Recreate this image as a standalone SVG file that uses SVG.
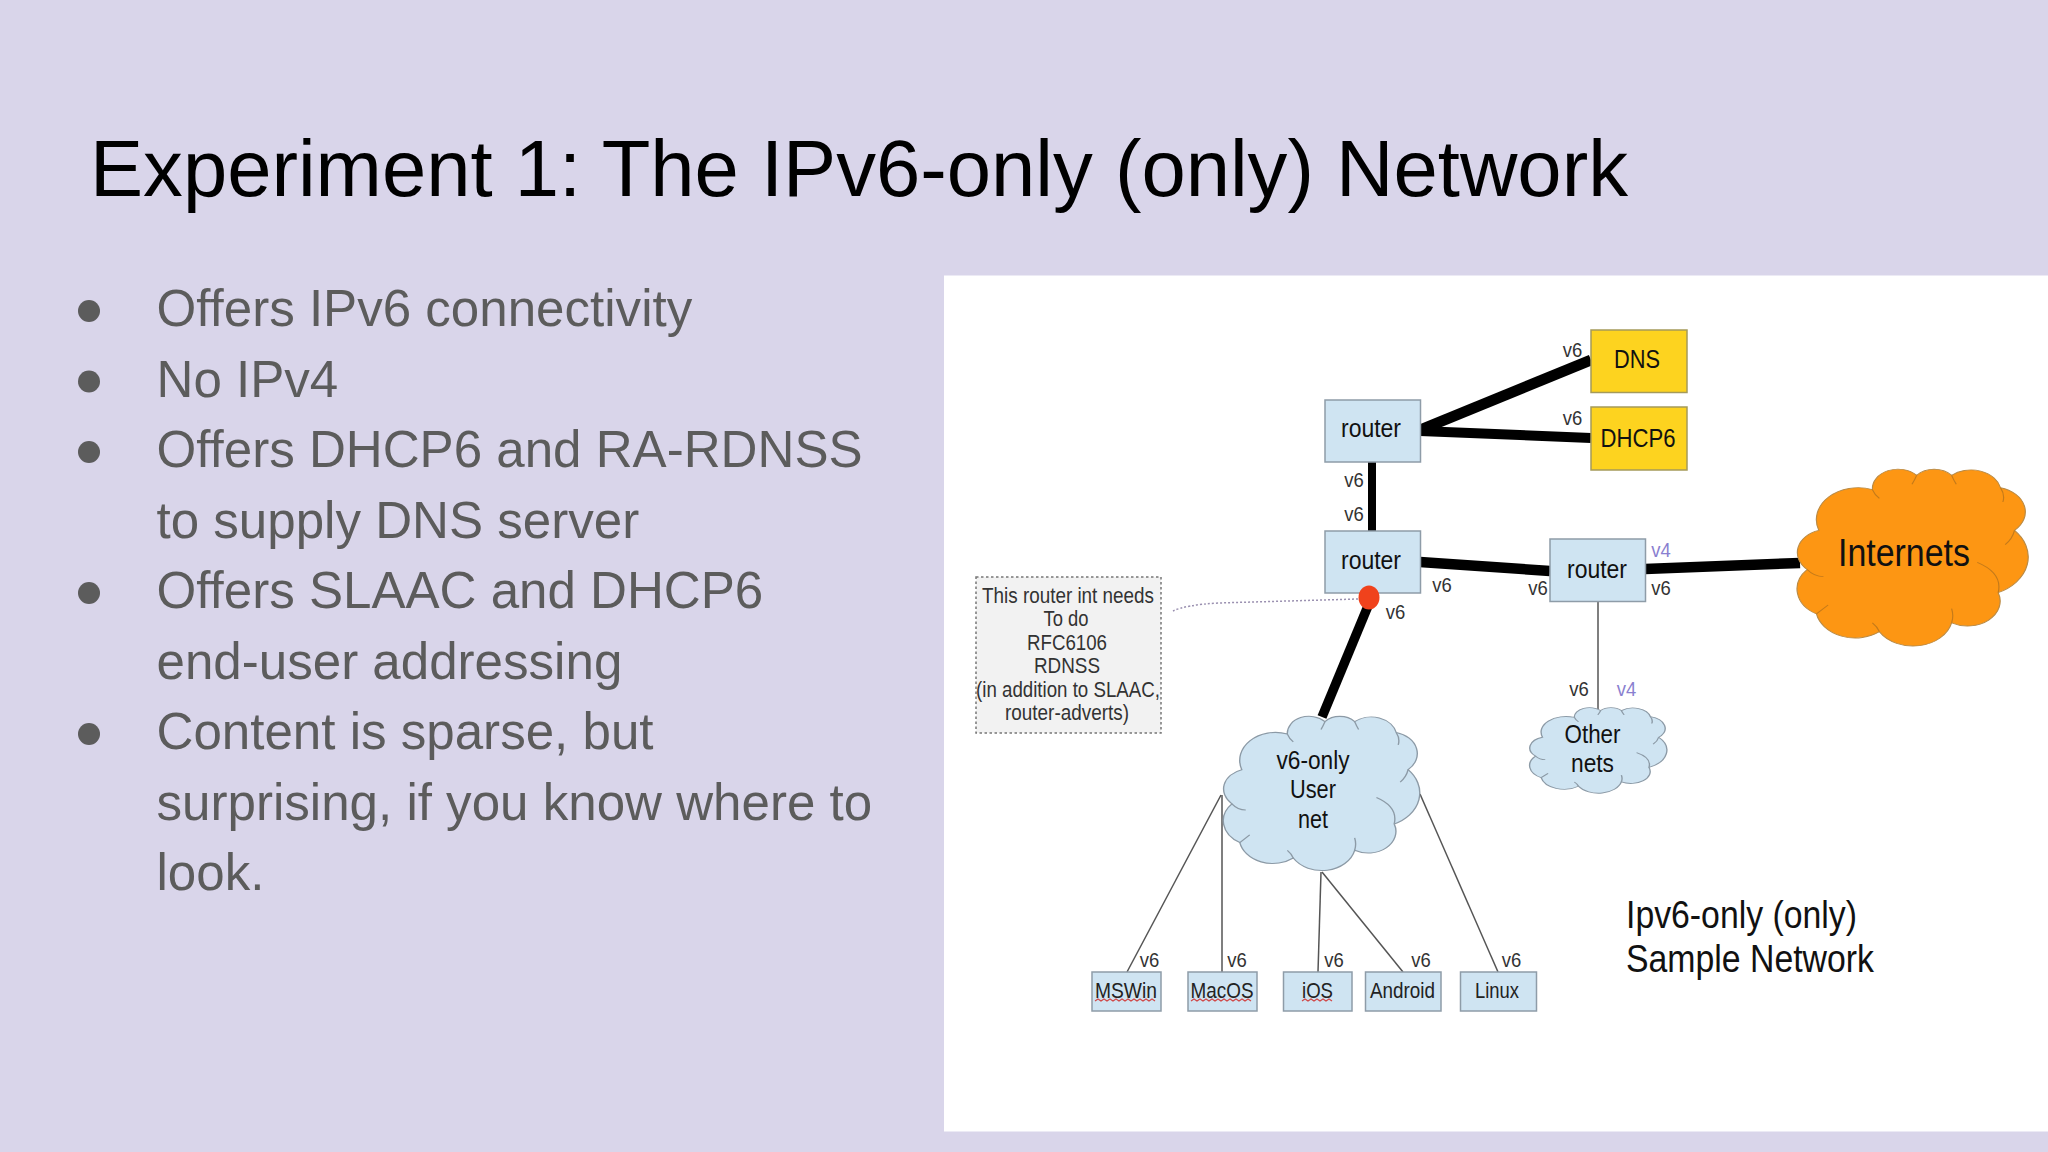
<svg xmlns="http://www.w3.org/2000/svg" width="2048" height="1152" viewBox="0 0 2048 1152">
<style>
text{font-family:"Liberation Sans",Arial,sans-serif}
.t{font-size:79.6px;fill:#000}
.b{font-size:51.1px;fill:#5c5c5c}
.box{stroke:#8e9ca8;stroke-width:1.5;fill:#cfe4f2}
.y{stroke:#a59a5a;stroke-width:1.5;fill:#fdd31f}
.l{font-size:25px;fill:#111;text-anchor:middle}
.s{font-size:22px;fill:#222;text-anchor:middle}
.v{font-size:20px;fill:#333;text-anchor:middle}
.p{fill:#8a7fd0}
.n{font-size:22px;fill:#333;text-anchor:middle}
.thick{stroke:#000;fill:none}
.thin{stroke:#555;stroke-width:1.5;fill:none}
.sq{stroke:#d04848;stroke-width:1.2;fill:none}
</style>
<defs>
<path id="cloud" d="M10,34A18,18 0 0 1 33,11A11,11 0 0 1 52,3A10,10 0 0 1 67,3A13,13 0 0 1 88,10A14,14 0 0 1 94,34A22,22 0 0 1 87,69A14,14 0 0 1 67,86A17,17 0 0 1 36,91A17,17 0 0 1 9,81A16,16 0 0 1 5,56A13,13 0 0 1 10,34Z"/>
<path id="crease" d="M5,56Q8,60 12,60M33,11Q34,14 36,16M52,3Q51,6 50,8M67,3Q68,6 69,8M88,10Q90,14 89,18M94,34Q93,39 90,42M87,69Q89,58 78,52M67,86Q68,82 67,78M36,91Q35,88 33,86M9,81Q11,79 14,76"/>
</defs>
<rect width="2048" height="1152" fill="#d9d5ea"/>
<rect x="944" y="275.500" width="1104" height="856" fill="#fff"/>
<text class="t" x="90" y="195.500">Experiment 1: The IPv6-only (only) Network</text>
<g id="bullets">
<circle cx="89" cy="311" r="11" fill="#5c5c5c"/>
<circle cx="89" cy="381.500" r="11" fill="#5c5c5c"/>
<circle cx="89" cy="452" r="11" fill="#5c5c5c"/>
<circle cx="89" cy="593" r="11" fill="#5c5c5c"/>
<circle cx="89" cy="734" r="11" fill="#5c5c5c"/>
<text class="b" x="156.500" y="326">Offers IPv6 connectivity</text>
<text class="b" x="156.500" y="396.500">No IPv4</text>
<text class="b" x="156.500" y="467">Offers DHCP6 and RA-RDNSS</text>
<text class="b" x="156.500" y="537.500">to supply DNS server</text>
<text class="b" x="156.500" y="608">Offers SLAAC and DHCP6</text>
<text class="b" x="156.500" y="678.500">end-user addressing</text>
<text class="b" x="156.500" y="749">Content is sparse, but</text>
<text class="b" x="156.500" y="819.500">surprising, if you know where to</text>
<text class="b" x="156.500" y="890">look.</text>
</g>
<g id="connectors">
<line class="thick" stroke-width="11" x1="1420" y1="430" x2="1591" y2="360"/>
<line class="thick" stroke-width="10" x1="1420" y1="431" x2="1591" y2="438"/>
<line class="thick" stroke-width="8" x1="1372" y1="462" x2="1372" y2="531"/>
<line class="thick" stroke-width="10.500" x1="1420" y1="562" x2="1550" y2="571"/>
<line class="thick" stroke-width="10.500" x1="1645" y1="569" x2="1800" y2="563"/>
<line class="thick" stroke-width="9.500" x1="1368" y1="606" x2="1322" y2="717"/>
<path d="M1173,611Q1185,605 1218,603L1358,599" fill="none" stroke="#9a90b0" stroke-width="1.500" stroke-dasharray="2 2"/>
<line class="thin" x1="1598" y1="602" x2="1598" y2="709"/>
<line class="thin" x1="1221" y1="795" x2="1127" y2="972"/>
<line class="thin" x1="1222" y1="795" x2="1222" y2="972"/>
<line class="thin" x1="1321" y1="872" x2="1318" y2="972"/>
<line class="thin" x1="1322" y1="872" x2="1403" y2="972"/>
<line class="thin" x1="1420" y1="794" x2="1498" y2="972"/>
</g>
<g id="router-top"><rect class="box" x="1325" y="400" width="95.500" height="62"/><text class="l" x="1371" y="437" textLength="60" lengthAdjust="spacingAndGlyphs">router</text></g>
<g id="router-mid"><rect class="box" x="1325" y="531" width="95.500" height="62"/><text class="l" x="1371" y="569" textLength="60" lengthAdjust="spacingAndGlyphs">router</text></g>
<g id="router-right"><rect class="box" x="1550" y="539" width="95.500" height="62.500"/><text class="l" x="1597" y="577.500" textLength="60" lengthAdjust="spacingAndGlyphs">router</text></g>
<g id="dns"><rect class="y" x="1591" y="330" width="96" height="62.500"/><text class="l" x="1637" y="368" textLength="46" lengthAdjust="spacingAndGlyphs">DNS</text></g>
<g id="dhcp6"><rect class="y" x="1591" y="407" width="96" height="63"/><text class="l" x="1638" y="446.500" textLength="75" lengthAdjust="spacingAndGlyphs">DHCP6</text></g>
<g id="internets">
<g transform="translate(1795.500,470) scale(2.33,1.777)"><use href="#cloud" fill="#fd9613" stroke="#b98a45" stroke-width="0.5"/><use href="#crease" fill="none" stroke="#c47a1a" stroke-width="0.5"/></g>
<text x="1904" y="566" font-size="39" fill="#111" text-anchor="middle" textLength="132" lengthAdjust="spacingAndGlyphs">Internets</text>
</g>
<g id="user-net">
<g transform="translate(1222,717) scale(1.98,1.55)"><use href="#cloud" fill="#cfe4f2" stroke="#8c9aa6" stroke-width="0.7"/><use href="#crease" fill="none" stroke="#8c9aa6" stroke-width="0.7"/></g>
<text class="l" x="1313" y="769" textLength="73" lengthAdjust="spacingAndGlyphs">v6-only</text>
<text class="l" x="1313" y="798" textLength="46" lengthAdjust="spacingAndGlyphs">User</text>
<text class="l" x="1313" y="827.500" textLength="30" lengthAdjust="spacingAndGlyphs">net</text>
</g>
<g id="other-nets">
<g transform="translate(1528.700,708) scale(1.383,0.86)"><use href="#cloud" fill="#cfe4f2" stroke="#8c9aa6" stroke-width="1"/><use href="#crease" fill="none" stroke="#8c9aa6" stroke-width="1"/></g>
<text class="l" x="1592.500" y="743" textLength="56" lengthAdjust="spacingAndGlyphs">Other</text>
<text class="l" x="1592.500" y="771.500" textLength="43" lengthAdjust="spacingAndGlyphs">nets</text>
</g>
<g id="red-dot"><ellipse cx="1369" cy="597.500" rx="10.500" ry="12" fill="#f0421c"/></g>
<g id="note">
<rect x="976" y="577" width="185" height="156" fill="#f2f2f2" stroke="#777" stroke-width="1.500" stroke-dasharray="2.500 2.500"/>
<text class="n" x="1068" y="602.500" textLength="172" lengthAdjust="spacingAndGlyphs">This router int needs</text>
<text class="n" x="1066" y="626" textLength="45" lengthAdjust="spacingAndGlyphs">To do</text>
<text class="n" x="1067" y="650" textLength="80" lengthAdjust="spacingAndGlyphs">RFC6106</text>
<text class="n" x="1067" y="672.500" textLength="66" lengthAdjust="spacingAndGlyphs">RDNSS</text>
<text class="n" x="1068" y="696.500" textLength="184" lengthAdjust="spacingAndGlyphs">(in addition to SLAAC,</text>
<text class="n" x="1067" y="720" textLength="124" lengthAdjust="spacingAndGlyphs">router-adverts)</text>
</g>
<g id="mswin"><rect class="box" x="1092" y="972" width="69" height="39"/><text class="s" x="1126" y="998" textLength="62" lengthAdjust="spacingAndGlyphs">MSWin</text><path class="sq" d="M1095,1001l3,-2 3,2 3,-2 3,2 3,-2 3,2 3,-2 3,2 3,-2 3,2 3,-2 3,2 3,-2 3,2 3,-2 3,2 3,-2 3,2 3,-2 3,2"/></g>
<g id="macos"><rect class="box" x="1188" y="972" width="69" height="39"/><text class="s" x="1222" y="998" textLength="63" lengthAdjust="spacingAndGlyphs">MacOS</text><path class="sq" d="M1191,1001l3,-2 3,2 3,-2 3,2 3,-2 3,2 3,-2 3,2 3,-2 3,2 3,-2 3,2 3,-2 3,2 3,-2 3,2 3,-2 3,2 3,-2 3,2"/></g>
<g id="ios"><rect class="box" x="1283.500" y="972" width="68.500" height="39"/><text class="s" x="1317.500" y="998" textLength="31" lengthAdjust="spacingAndGlyphs">iOS</text><path class="sq" d="M1302,1001l3,-2 3,2 3,-2 3,2 3,-2 3,2 3,-2 3,2 3,-2 3,2"/></g>
<g id="android"><rect class="box" x="1365.500" y="972" width="75.500" height="39"/><text class="s" x="1402.500" y="998" textLength="65" lengthAdjust="spacingAndGlyphs">Android</text></g>
<g id="linux"><rect class="box" x="1460.500" y="972" width="76" height="39"/><text class="s" x="1497" y="998" textLength="44" lengthAdjust="spacingAndGlyphs">Linux</text></g>
<g id="labels">
<text class="v" x="1572.500" y="356.500" textLength="19.500" lengthAdjust="spacingAndGlyphs">v6</text>
<text class="v" x="1572.500" y="425" textLength="19.500" lengthAdjust="spacingAndGlyphs">v6</text>
<text class="v" x="1354" y="487" textLength="19.500" lengthAdjust="spacingAndGlyphs">v6</text>
<text class="v" x="1354" y="521" textLength="19.500" lengthAdjust="spacingAndGlyphs">v6</text>
<text class="v" x="1442" y="592" textLength="19.500" lengthAdjust="spacingAndGlyphs">v6</text>
<text class="v" x="1538" y="595" textLength="19.500" lengthAdjust="spacingAndGlyphs">v6</text>
<text class="v p" x="1661" y="557" textLength="19.500" lengthAdjust="spacingAndGlyphs">v4</text>
<text class="v" x="1661" y="595" textLength="19.500" lengthAdjust="spacingAndGlyphs">v6</text>
<text class="v" x="1395.500" y="619" textLength="19.500" lengthAdjust="spacingAndGlyphs">v6</text>
<text class="v" x="1579" y="696" textLength="19.500" lengthAdjust="spacingAndGlyphs">v6</text>
<text class="v p" x="1626.500" y="696" textLength="19.500" lengthAdjust="spacingAndGlyphs">v4</text>
<text class="v" x="1149.500" y="966.500" textLength="19.500" lengthAdjust="spacingAndGlyphs">v6</text>
<text class="v" x="1237" y="966.500" textLength="19.500" lengthAdjust="spacingAndGlyphs">v6</text>
<text class="v" x="1334" y="966.500" textLength="19.500" lengthAdjust="spacingAndGlyphs">v6</text>
<text class="v" x="1421" y="966.500" textLength="19.500" lengthAdjust="spacingAndGlyphs">v6</text>
<text class="v" x="1511.500" y="966.500" textLength="19.500" lengthAdjust="spacingAndGlyphs">v6</text>
<text x="1626" y="928" font-size="38" fill="#111" textLength="231" lengthAdjust="spacingAndGlyphs">Ipv6-only (only)</text>
<text x="1626" y="971.500" font-size="38" fill="#111" textLength="248" lengthAdjust="spacingAndGlyphs">Sample Network</text>
</g>
</svg>
